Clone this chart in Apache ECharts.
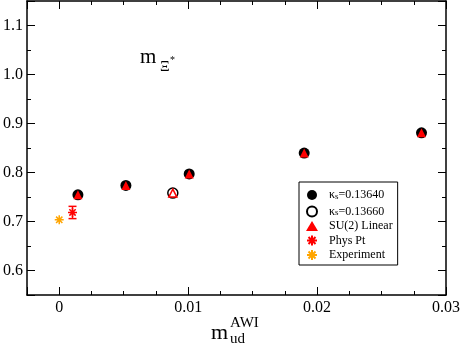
<!DOCTYPE html>
<html>
<head>
<meta charset="utf-8">
<script src="https://cdn.jsdelivr.net/npm/echarts/dist/echarts.min.js"></script>
<style>
  html, body { margin: 0; padding: 0; background: #fff; }
  #chart { width: 463px; height: 347px; }
</style>
</head>
<body>
<div id="chart"></div>
<script>
// kappa_s = 0.13640 (filled circles)
const k1X = [0.00145, 0.00517, 0.01008, 0.0190, 0.0281];
const k1Y = [0.7545, 0.7735, 0.797, 0.8396, 0.881];
// kappa_s = 0.13660 (open circle)
const k2X = [0.00881];
const k2Y = [0.758];
// physical point, with error
const physX = [0.00103];
const physY = [0.7184];
const physErr = [0.0125];
// experiment
const expX = [0];
const expY = [0.7035];

const xTicks = [0, 0.01, 0.02, 0.03];
const yTicks = [0.6, 0.7, 0.8, 0.9, 1.0, 1.1];

const serif = 'Liberation Serif';
const asterisk = 'path://M0,-10L0,10M-10,0L10,0M-7,-7L7,7M-7,7L7,-7';

function pairs(xs, ys) { return xs.map((x, i) => [x, ys[i]]); }
function isTick(list, v) { return list.some(t => Math.abs(t - v) < 1e-9); }

let chart = echarts.init(document.getElementById('chart'));

// major / minor axes on each side of the frame
function xAxisDef(pos, minor, labels) {
  return {
    type: 'value', position: pos, min: -0.0025, max: 0.03,
    splitNumber: minor ? undefined : 3,
    interval: minor ? 0.0025 : undefined,
    axisLine: { show: !minor, onZero: false, lineStyle: { color: '#000', width: 1.5 } },
    axisTick: { show: true, inside: true, length: minor ? 4 : 8, lineStyle: { color: '#000', width: 1 } },
    axisLabel: {
      show: labels, color: '#000', fontSize: 16, fontFamily: serif, margin: 5,
      formatter: v => isTick(xTicks, v) ? (v === 0 ? '0' : String(+v.toFixed(2))) : ''
    },
    splitLine: { show: false }
  };
}
function yAxisDef(pos, minor, labels) {
  return {
    type: 'value', position: pos, min: 0.55, max: 1.15,
    splitNumber: minor ? undefined : 6,
    interval: minor ? 0.05 : undefined,
    axisLine: { show: !minor, onZero: false, lineStyle: { color: '#000', width: 1.5 } },
    axisTick: { show: true, inside: true, length: minor ? 4 : 8, lineStyle: { color: '#000', width: 1 } },
    axisLabel: {
      show: labels, color: '#000', fontSize: 16, fontFamily: serif, margin: 4,
      formatter: v => isTick(yTicks, v) ? v.toFixed(1) : ''
    },
    splitLine: { show: false }
  };
}

let option = {
  animation: false,
  backgroundColor: '#fff',
  grid: { left: 27, right: 16, top: 1, bottom: 52 },
  xAxis: [
    xAxisDef('bottom', false, true),
    xAxisDef('bottom', true, false),
    xAxisDef('top', false, false),
    xAxisDef('top', true, false)
  ],
  yAxis: [
    yAxisDef('left', false, true),
    yAxisDef('left', true, false),
    yAxisDef('right', false, false),
    yAxisDef('right', true, false)
  ],
  legend: {
    orient: 'vertical',
    left: 299, top: 182,
    padding: [5, 5, 4, 7],
    backgroundColor: '#fff',
    borderColor: '#000', borderWidth: 1, borderRadius: 0,
    itemWidth: 12, itemHeight: 10, itemGap: 2.5,
    data: ['κs=0.13640', 'κs=0.13660', 'SU(2) Linear', 'Phys Pt', 'Experiment'],
    formatter: name => name.startsWith('κs') ? '{n|κ}{s|s}{n|' + name.slice(2) + '}' : '{n|' + name + '}',
    textStyle: {
      padding: [0, 0, 0, 6],
      rich: {
        n: { fontFamily: serif, fontSize: 12, color: '#000', lineHeight: 12 },
        s: { fontFamily: serif, fontSize: 9, color: '#000', lineHeight: 12, verticalAlign: 'bottom', padding: [5, 0, 0, 0] }
      }
    }
  },
  series: [
    {
      name: 'κs=0.13640', type: 'scatter', symbol: 'circle', symbolSize: 11,
      itemStyle: { color: '#000', opacity: 1 },
      data: pairs(k1X, k1Y), z: 2
    },
    {
      name: 'κs=0.13660', type: 'scatter', symbol: 'circle', symbolSize: 10,
      itemStyle: { color: '#fff', borderColor: '#000', borderWidth: 1.5, opacity: 1 },
      data: pairs(k2X, k2Y), z: 2
    },
    {
      name: 'SU(2) Linear', type: 'scatter', symbol: 'triangle', symbolSize: 9,
      itemStyle: { color: '#ff0000', opacity: 1 },
      data: pairs(k1X, k1Y), z: 3
    },
    {
      name: 'SU(2) Linear', type: 'scatter', symbol: 'triangle', symbolSize: 8,
      itemStyle: { color: '#fff', borderColor: '#ff0000', borderWidth: 1.5, opacity: 1 },
      data: pairs(k2X, k2Y), z: 3
    },
    {
      name: 'physErr', type: 'custom', z: 3,
      data: physX.map((x, i) => [x, physY[i] - physErr[i], physY[i] + physErr[i]]),
      renderItem: function (params, api) {
        let top = api.coord([api.value(0), api.value(2)]);
        let bot = api.coord([api.value(0), api.value(1)]);
        let w = 4;
        let st = { stroke: '#ff0000', lineWidth: 1.5 };
        return {
          type: 'group', children: [
            { type: 'line', shape: { x1: top[0], y1: top[1], x2: bot[0], y2: bot[1] }, style: st },
            { type: 'line', shape: { x1: top[0] - w, y1: top[1], x2: top[0] + w, y2: top[1] }, style: st },
            { type: 'line', shape: { x1: bot[0] - w, y1: bot[1], x2: bot[0] + w, y2: bot[1] }, style: st }
          ]
        };
      }
    },
    {
      name: 'Phys Pt', type: 'scatter', symbol: asterisk, symbolSize: 9,
      itemStyle: { color: '#ff0000', borderColor: '#ff0000', borderWidth: 1.5, opacity: 1 },
      data: pairs(physX, physY), z: 4
    },
    {
      name: 'Experiment', type: 'scatter', symbol: asterisk, symbolSize: 9,
      itemStyle: { color: '#ffa500', borderColor: '#ffa500', borderWidth: 1.5, opacity: 1 },
      data: pairs(expX, expY), z: 4
    }
  ],
  graphic: [
    // panel label m_Xi*
    { type: 'text', left: 140, top: 47, style: { text: 'm', font: '21px ' + serif, fill: '#000' } },
    { type: 'text', left: 160, top: 60, style: { text: 'Ξ', font: '15px ' + serif, fill: '#000' } },
    { type: 'text', left: 170, top: 55, style: { text: '*', font: '10px ' + serif, fill: '#000' } },
    // x axis title m_ud^AWI
    { type: 'text', left: 211, top: 322, style: { text: 'm', font: '22px ' + serif, fill: '#000' } },
    { type: 'text', left: 230, top: 316, style: { text: 'AWI', font: '15px ' + serif, fill: '#000' } },
    { type: 'text', left: 230, top: 332, style: { text: 'ud', font: '15px ' + serif, fill: '#000' } }
  ]
};

chart.setOption(option);
window.addEventListener('resize', function () { chart.resize(); });
</script>
</body>
</html>
